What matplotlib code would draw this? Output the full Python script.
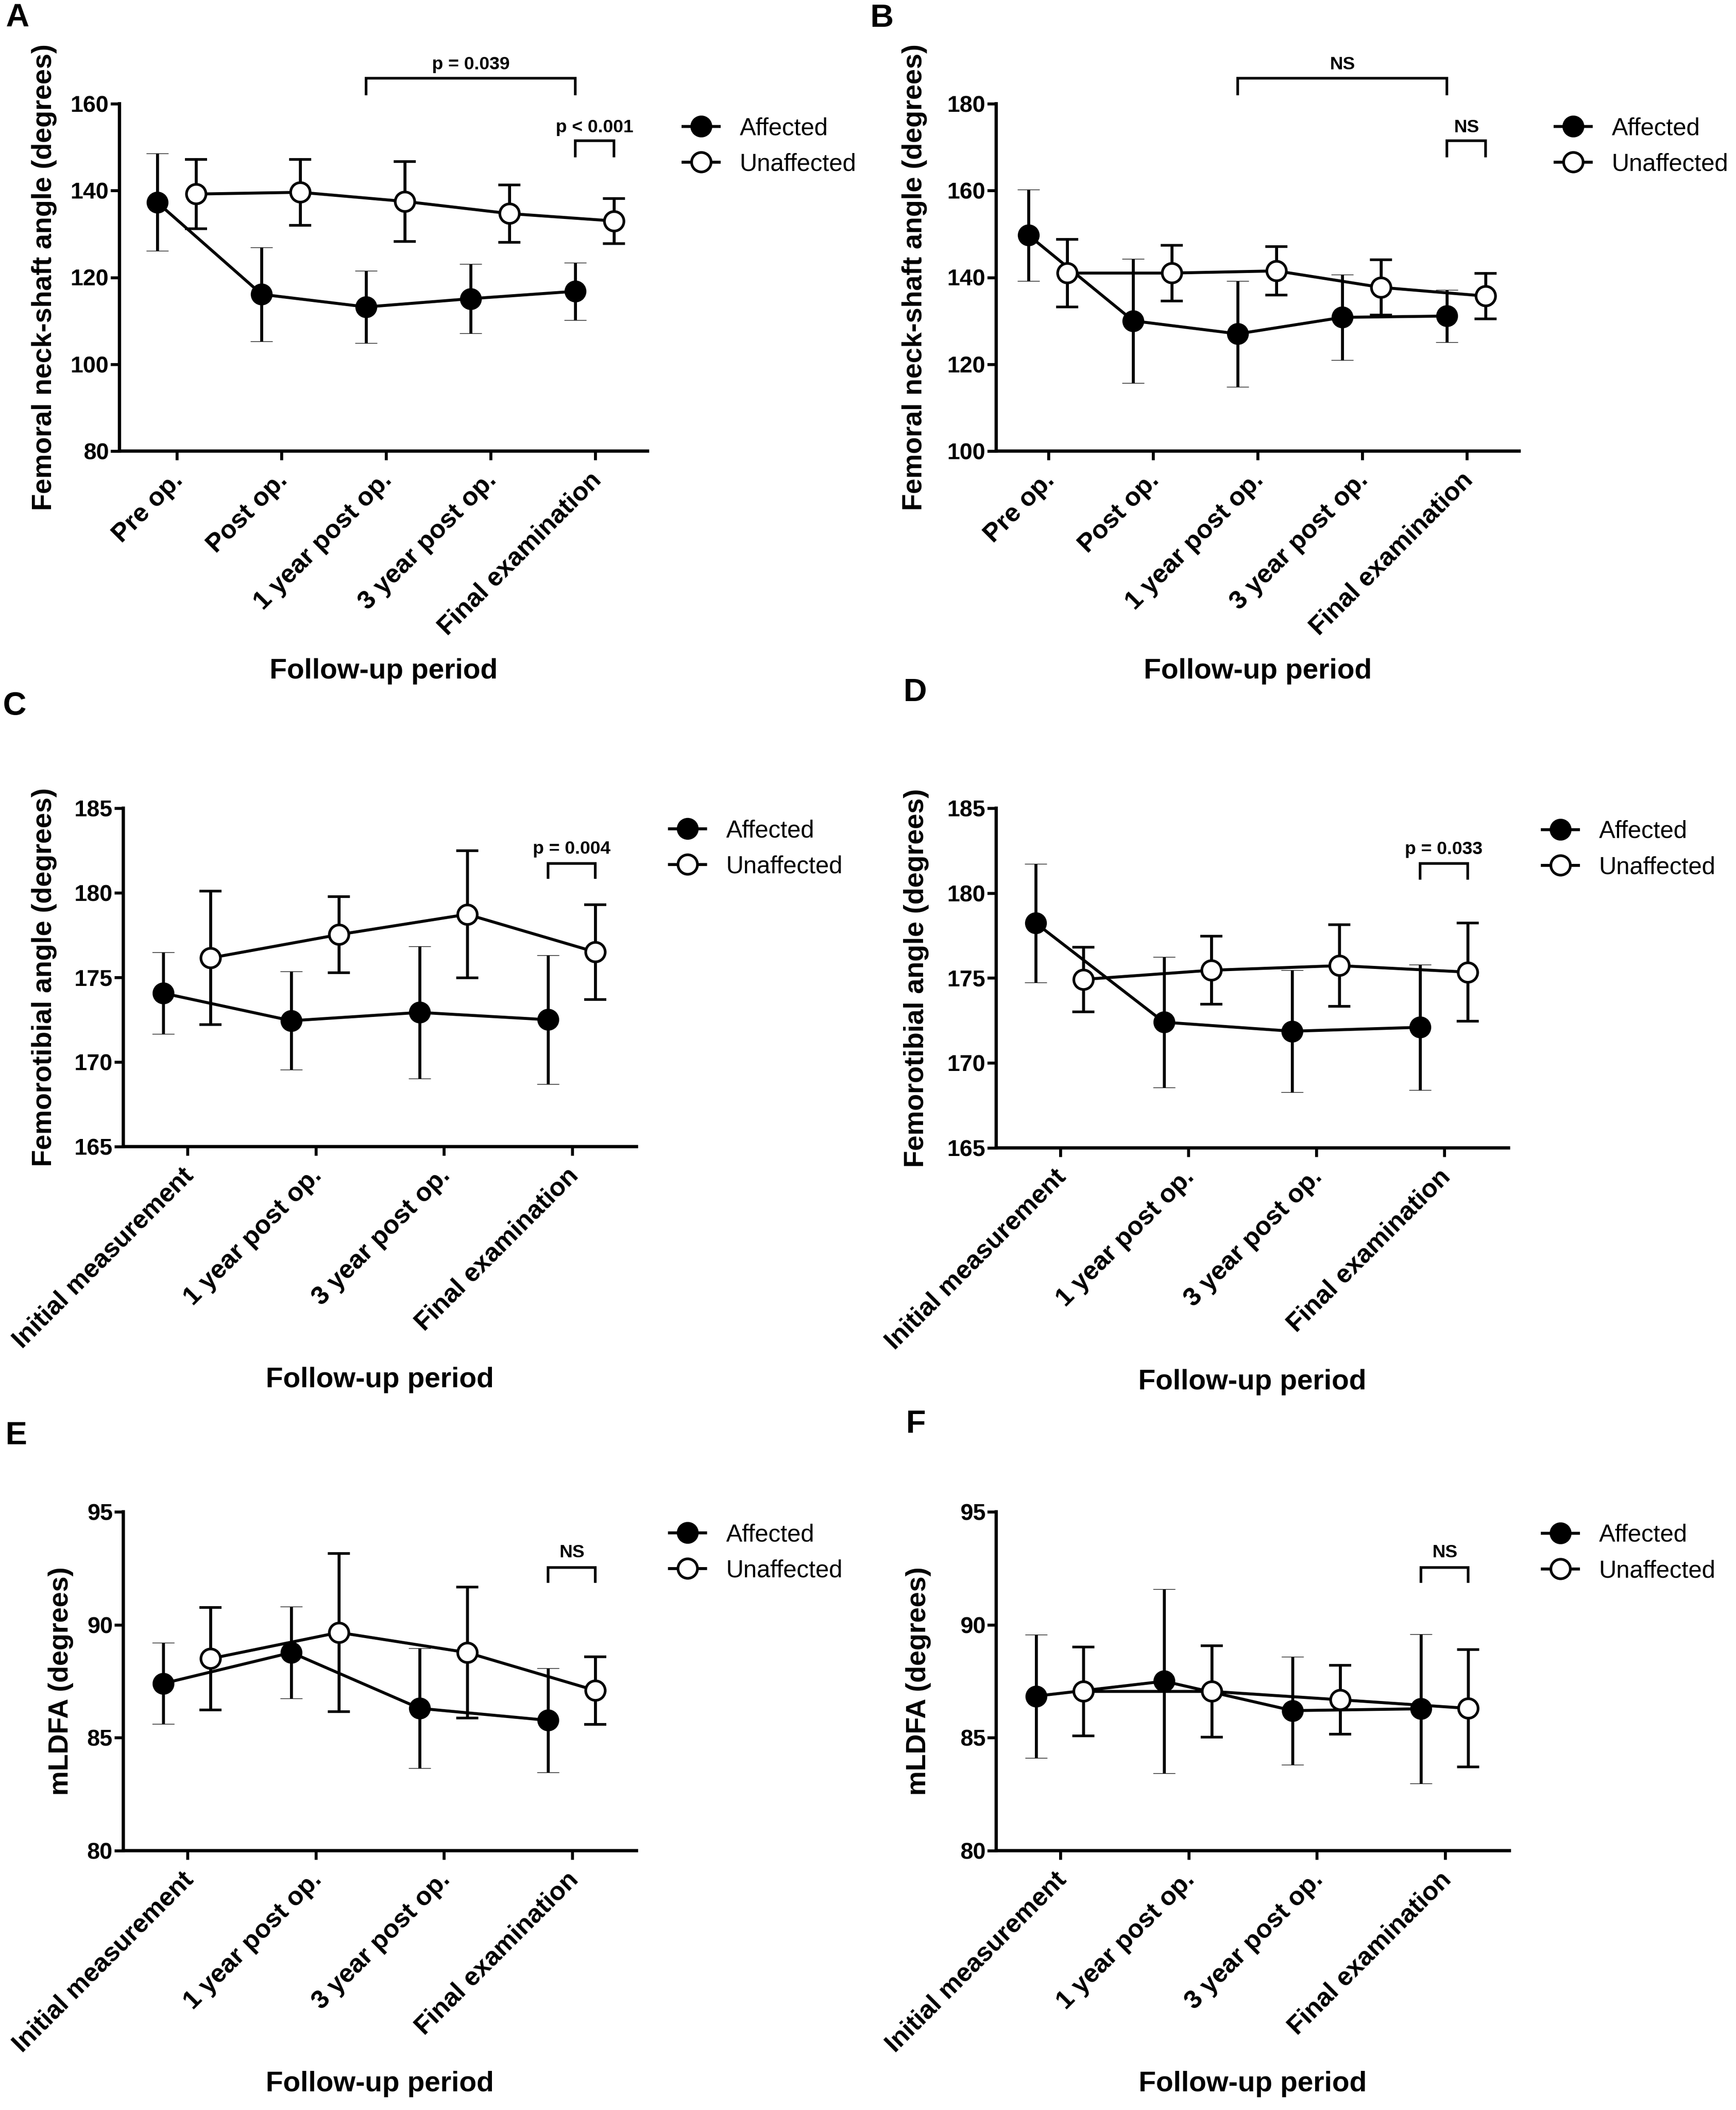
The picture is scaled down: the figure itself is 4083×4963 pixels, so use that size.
import matplotlib
matplotlib.use('Agg')
import matplotlib.pyplot as plt
import matplotlib.transforms as mtrans
import numpy as np

plt.rcParams['font.family'] = ['Liberation Sans', 'DejaVu Sans']

W, H = 4083, 4963

# category labels
cats_neck = ['Pre op.', 'Post op.', '1 year post op.', '3 year post op.', 'Final examination']
cats_long = ['Initial measurement', '1 year post op.', '3 year post op.', 'Final examination']

# A: femoral neck-shaft angle, group 1
a_aff_mean = [137.3, 116.1, 113.2, 115.1, 116.8]
a_aff_sd = [11.2, 10.8, 8.3, 8.0, 6.6]
a_un_mean = [139.2, 139.6, 137.5, 134.7, 133.0]
a_un_sd = [8.0, 7.6, 9.2, 6.6, 5.2]

# B: femoral neck-shaft angle, group 2
b_aff_mean = [149.7, 130.0, 127.0, 130.8, 131.1]
b_aff_sd = [10.5, 14.3, 12.2, 9.8, 6.0]
b_un_mean = [141.0, 141.0, 141.5, 137.7, 135.7]
b_un_sd = [7.8, 6.4, 5.6, 6.4, 5.2]

# C: femorotibial angle, group 1
c_aff_mean = [174.07, 172.44, 172.93, 172.5]
c_aff_sd = [2.4, 2.9, 3.9, 3.8]
c_un_mean = [176.15, 177.53, 178.73, 176.5]
c_un_sd = [3.95, 2.25, 3.75, 2.8]

# D: femorotibial angle, group 2
d_aff_mean = [178.23, 172.4, 171.87, 172.1]
d_aff_sd = [3.5, 3.85, 3.6, 3.7]
d_un_mean = [174.92, 175.46, 175.73, 175.35]
d_un_sd = [1.9, 2.0, 2.4, 2.9]

# E: mLDFA, group 1
e_aff_mean = [87.4, 88.77, 86.3, 85.77]
e_aff_sd = [1.8, 2.03, 2.65, 2.3]
e_un_mean = [88.5, 89.66, 88.77, 87.09]
e_un_sd = [2.27, 3.5, 2.9, 1.5]

# F: mLDFA, group 2
f_aff_mean = [86.84, 87.5, 86.2, 86.28]
f_aff_sd = [2.73, 4.07, 2.39, 3.3]
f_un_mean = [87.05, 87.05, 86.68, 86.3]
f_un_sd = [1.96, 2.03, 1.53, 2.6]

# significance brackets: (start idx, start group, end idx, end group, y bar, y leg, y text, label)
a_brackets = [(2, 'aff', 4, 'aff', 165.9, 162.3, 169.0, 'p = 0.039'),
              (4, 'aff', 4, 'un', 151.5, 148.0, 154.5, 'p < 0.001')]
b_brackets = [(2, 'aff', 4, 'aff', 185.9, 182.3, 189.0, 'NS'),
              (4, 'aff', 4, 'un', 171.5, 168.0, 174.5, 'NS')]
c_brackets = [(3, 'aff', 3, 'un', 181.73, 180.9, 182.6, 'p = 0.004')]
d_brackets = [(3, 'aff', 3, 'un', 181.74, 180.87, 182.58, 'p = 0.033')]
e_brackets = [(3, 'aff', 3, 'un', 92.53, 91.92, 93.19, 'NS')]
f_brackets = [(3, 'aff', 3, 'un', 92.53, 91.92, 93.19, 'NS')]

OFF = {'aff': -0.19, 'un': 0.18}
LW = 5

panels = [
    dict(letter='A', cats=cats_neck, aff=(a_aff_mean, a_aff_sd), un=(a_un_mean, a_un_sd),
         ylim=(80, 160), ystep=20, ylabel='Femoral neck-shaft angle (degrees)', br=a_brackets,
         box=(281, 244, 1523, 1061), xlim=(-0.55, 4.5), ylab_x=-0.1425, xlab_y=-0.634,
         leg=(1606, 297), let=(13, 62)),
    dict(letter='B', cats=cats_neck, aff=(b_aff_mean, b_aff_sd), un=(b_un_mean, b_un_sd),
         ylim=(100, 180), ystep=20, ylabel='Femoral neck-shaft angle (degrees)', br=b_brackets,
         box=(2343, 244, 3573, 1061), xlim=(-0.5, 4.5), ylab_x=-0.156, xlab_y=-0.634,
         leg=(3657, 297), let=(2047, 63)),
    dict(letter='C', cats=cats_long, aff=(c_aff_mean, c_aff_sd), un=(c_un_mean, c_un_sd),
         ylim=(165, 185), ystep=5, ylabel='Femorotibial angle (degrees)', br=c_brackets,
         box=(290, 1901, 1497, 2697), xlim=(-0.5, 3.5), ylab_x=-0.154, xlab_y=-0.69,
         leg=(1574, 1949), let=(7, 1681)),
    dict(letter='D', cats=cats_long, aff=(d_aff_mean, d_aff_sd), un=(d_un_mean, d_un_sd),
         ylim=(165, 185), ystep=5, ylabel='Femorotibial angle (degrees)', br=d_brackets,
         box=(2343, 1901, 3548, 2700), xlim=(-0.5, 3.5), ylab_x=-0.156, xlab_y=-0.69,
         leg=(3627, 1951), let=(2125, 1649)),
    dict(letter='E', cats=cats_long, aff=(e_aff_mean, e_aff_sd), un=(e_un_mean, e_un_sd),
         ylim=(80, 95), ystep=5, ylabel='mLDFA (degrees)', br=e_brackets,
         box=(290, 3556, 1497, 4353), xlim=(-0.5, 3.5), ylab_x=-0.122, xlab_y=-0.689,
         leg=(1574, 3605), let=(13, 3397)),
    dict(letter='F', cats=cats_long, aff=(f_aff_mean, f_aff_sd), un=(f_un_mean, f_un_sd),
         ylim=(80, 95), ystep=5, ylabel='mLDFA (degrees)', br=f_brackets,
         box=(2343, 3556, 3550, 4353), xlim=(-0.5, 3.5), ylab_x=-0.152, xlab_y=-0.689,
         leg=(3627, 3606), let=(2131, 3370)),
]

fig = plt.figure(figsize=(W / 100, H / 100), dpi=100)
shift = mtrans.ScaledTranslation(-15 / 100, -8 / 100, fig.dpi_scale_trans)

for p in panels:
    l, t, r, b = p['box']
    ax = fig.add_axes([l / W, 1 - b / H, (r - l) / W, (b - t) / H])
    x = np.arange(len(p['cats']))

    e1 = ax.errorbar(x + OFF['aff'], p['aff'][0], yerr=p['aff'][1], fmt='-o', color='black',
                     mfc='black', mec='black', ms=36, mew=1, lw=LW, elinewidth=LW,
                     capsize=19, capthick=LW, label='Affected', zorder=3)
    e2 = ax.errorbar(x + OFF['un'], p['un'][0], yerr=p['un'][1], fmt='-o', color='black',
                     mfc='white', mec='black', ms=33, mew=4.5, lw=LW, elinewidth=LW,
                     capsize=19, capthick=LW, label='Unaffected', zorder=4)

    ax.set_xlim(*p['xlim'])
    ax.set_ylim(*p['ylim'])
    ax.set_yticks(np.arange(p['ylim'][0], p['ylim'][1] + 0.1, p['ystep']))
    ax.set_xticks(x)
    ax.set_xticklabels(p['cats'], rotation=45, ha='right', rotation_mode='anchor',
                       fontweight='bold', fontsize=44)
    for lbl in ax.get_yticklabels():
        lbl.set_fontweight('bold')
        lbl.set_fontsize(39)
    ax.tick_params(axis='both', width=LW, length=15, direction='out')
    ax.tick_params(axis='x', pad=8)
    ax.tick_params(axis='y', pad=3)
    for s in ['top', 'right']:
        ax.spines[s].set_visible(False)
    for s in ['left', 'bottom']:
        ax.spines[s].set_linewidth(LW + 0.5)
    for lbl in ax.get_xticklabels():
        lbl.set_transform(lbl.get_transform() + shift)

    ax.set_ylabel(p['ylabel'], fontsize=47, fontweight='bold')
    ax.yaxis.set_label_coords(p['ylab_x'], 0.5)
    ax.yaxis.label.set_va('center')
    ax.set_xlabel('Follow-up period', fontsize=48, fontweight='bold')
    ax.xaxis.set_label_coords(0.5, p['xlab_y'])
    ax.xaxis.label.set_va('center')

    for i0, g0, i1, g1, ybar, yleg, ytxt, txt in p['br']:
        x0 = i0 + OFF[g0]
        x1 = i1 + OFF[g1]
        ax.plot([x0, x0, x1, x1], [yleg, ybar, ybar, yleg], color='black', lw=4.5,
                clip_on=False, solid_joinstyle='miter')
        ax.text((x0 + x1) / 2, ytxt, txt, ha='center', va='center', fontsize=31,
                fontweight='bold', clip_on=False)

    lx, ly = p['leg']
    ax.legend([e1[0], e2[0]], ['Affected', 'Unaffected'], loc='upper left',
              bbox_to_anchor=(lx / W, 1 - (ly - 22) / H), bbox_transform=fig.transFigure,
              frameon=False, fontsize=41, handlelength=1.5, handletextpad=0.85,
              labelspacing=0.53, borderpad=0, borderaxespad=0, numpoints=1)

    fx, fy = p['let']
    fig.text(fx / W, 1 - fy / H, p['letter'], fontsize=55, fontweight='bold',
             ha='left', va='baseline')

plt.savefig('out.png', dpi=100)
